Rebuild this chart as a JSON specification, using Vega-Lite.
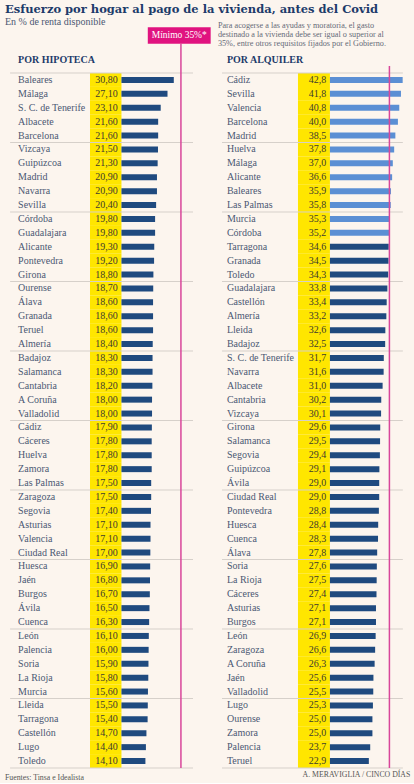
{
  "$schema": "https://vega.github.io/schema/vega-lite/v6.json",
  "background": "#fcf5ee",
  "padding": {"left": 4, "top": 3.5, "right": 3, "bottom": 1},
  "bounds": "flush",
  "spacing": 29,
  "datasets": {
    "hip": [
      {"name": "Baleares", "value": 30.8}, {"name": "Málaga", "value": 27.1}, {"name": "S. C. de Tenerife", "value": 23.1}, {"name": "Albacete", "value": 21.6}, {"name": "Barcelona", "value": 21.6},
      {"name": "Vizcaya", "value": 21.5}, {"name": "Guipúzcoa", "value": 21.3}, {"name": "Madrid", "value": 20.9}, {"name": "Navarra", "value": 20.9}, {"name": "Sevilla", "value": 20.4},
      {"name": "Córdoba", "value": 19.8}, {"name": "Guadalajara", "value": 19.8}, {"name": "Alicante", "value": 19.3}, {"name": "Pontevedra", "value": 19.2}, {"name": "Girona", "value": 18.8},
      {"name": "Ourense", "value": 18.7}, {"name": "Álava", "value": 18.6}, {"name": "Granada", "value": 18.6}, {"name": "Teruel", "value": 18.6}, {"name": "Almería", "value": 18.4},
      {"name": "Badajoz", "value": 18.3}, {"name": "Salamanca", "value": 18.3}, {"name": "Cantabria", "value": 18.2}, {"name": "A Coruña", "value": 18.0}, {"name": "Valladolid", "value": 18.0},
      {"name": "Cádiz", "value": 17.9}, {"name": "Cáceres", "value": 17.8}, {"name": "Huelva", "value": 17.8}, {"name": "Zamora", "value": 17.8}, {"name": "Las Palmas", "value": 17.5},
      {"name": "Zaragoza", "value": 17.5}, {"name": "Segovia", "value": 17.4}, {"name": "Asturias", "value": 17.1}, {"name": "Valencia", "value": 17.1}, {"name": "Ciudad Real", "value": 17.0},
      {"name": "Huesca", "value": 16.9}, {"name": "Jaén", "value": 16.8}, {"name": "Burgos", "value": 16.7}, {"name": "Ávila", "value": 16.5}, {"name": "Cuenca", "value": 16.3},
      {"name": "León", "value": 16.1}, {"name": "Palencia", "value": 16.0}, {"name": "Soria", "value": 15.9}, {"name": "La Rioja", "value": 15.8}, {"name": "Murcia", "value": 15.6},
      {"name": "Lleida", "value": 15.5}, {"name": "Tarragona", "value": 15.4}, {"name": "Castellón", "value": 14.7}, {"name": "Lugo", "value": 14.4}, {"name": "Toledo", "value": 14.1}
    ],
    "alq": [
      {"name": "Cádiz", "value": 42.8}, {"name": "Sevilla", "value": 41.8}, {"name": "Valencia", "value": 40.8}, {"name": "Barcelona", "value": 40.0}, {"name": "Madrid", "value": 38.5},
      {"name": "Huelva", "value": 37.8}, {"name": "Málaga", "value": 37.0}, {"name": "Alicante", "value": 36.6}, {"name": "Baleares", "value": 35.9}, {"name": "Las Palmas", "value": 35.8},
      {"name": "Murcia", "value": 35.3}, {"name": "Córdoba", "value": 35.2}, {"name": "Tarragona", "value": 34.6}, {"name": "Granada", "value": 34.5}, {"name": "Toledo", "value": 34.3},
      {"name": "Guadalajara", "value": 33.8}, {"name": "Castellón", "value": 33.4}, {"name": "Almería", "value": 33.2}, {"name": "Lleida", "value": 32.6}, {"name": "Badajoz", "value": 32.5},
      {"name": "S. C. de Tenerife", "value": 31.7}, {"name": "Navarra", "value": 31.6}, {"name": "Albacete", "value": 31.0}, {"name": "Cantabria", "value": 30.2}, {"name": "Vizcaya", "value": 30.1},
      {"name": "Girona", "value": 29.6}, {"name": "Salamanca", "value": 29.5}, {"name": "Segovia", "value": 29.4}, {"name": "Guipúzcoa", "value": 29.1}, {"name": "Ávila", "value": 29.0},
      {"name": "Ciudad Real", "value": 29.0}, {"name": "Pontevedra", "value": 28.8}, {"name": "Huesca", "value": 28.4}, {"name": "Cuenca", "value": 28.3}, {"name": "Álava", "value": 27.8},
      {"name": "Soria", "value": 27.6}, {"name": "La Rioja", "value": 27.5}, {"name": "Cáceres", "value": 27.4}, {"name": "Asturias", "value": 27.1}, {"name": "Burgos", "value": 27.1},
      {"name": "León", "value": 26.9}, {"name": "Zaragoza", "value": 26.6}, {"name": "A Coruña", "value": 26.3}, {"name": "Jaén", "value": 25.6}, {"name": "Valladolid", "value": 25.5},
      {"name": "Lugo", "value": 25.3}, {"name": "Ourense", "value": 25.0}, {"name": "Zamora", "value": 25.0}, {"name": "Palencia", "value": 23.7}, {"name": "Teruel", "value": 22.9}
    ]
  },
  "hconcat": [
    {
      "width": 189, "height": 778.4,
      "data": {"name": "hip"},
      "layer": [
        {"mark": {"type": "rect", "color": "#ffe600"},
         "encoding": {
           "x": {"datum": -18.5, "type": "quantitative", "scale": {"domain": [-69.1, 42.1], "nice": false, "zero": false}},
           "x2": {"datum": 0},
           "y": {"field": "name", "type": "nominal", "scale": {"type": "band", "paddingInner": 0, "paddingOuter": 0, "domain": ["·t1", "·t2", "·a", "·b", "·c", "Baleares", "Málaga", "S. C. de Tenerife", "Albacete", "Barcelona", "Vizcaya", "Guipúzcoa", "Madrid", "Navarra", "Sevilla", "Córdoba", "Guadalajara", "Alicante", "Pontevedra", "Girona", "Ourense", "Álava", "Granada", "Teruel", "Almería", "Badajoz", "Salamanca", "Cantabria", "A Coruña", "Valladolid", "Cádiz", "Cáceres", "Huelva", "Zamora", "Las Palmas", "Zaragoza", "Segovia", "Asturias", "Valencia", "Ciudad Real", "Huesca", "Jaén", "Burgos", "Ávila", "Cuenca", "León", "Palencia", "Soria", "La Rioja", "Murcia", "Lleida", "Tarragona", "Castellón", "Lugo", "Toledo", "·z"]}}
         }},
        {"transform": [{"window": [{"op": "row_number", "as": "r"}]}, {"filter": "(datum.r - 1) % 5 == 0"}],
         "mark": {"type": "rule", "color": "#d6d0ca", "strokeWidth": 1},
         "encoding": {"x": {"datum": -65.5, "type": "quantitative"}, "x2": {"datum": 42.1}, "y": {"field": "name", "type": "nominal", "bandPosition": 0}}},
        {"transform": [{"window": [{"op": "row_number", "as": "r"}]}, {"filter": "datum.r == 50"}],
         "mark": {"type": "rule", "color": "#d6d0ca", "strokeWidth": 1},
         "encoding": {"x": {"datum": -65.5, "type": "quantitative"}, "x2": {"datum": 42.1}, "y": {"field": "name", "type": "nominal", "bandPosition": 1}}},
        {"data": {"values": [{}]},
         "mark": {"type": "rule", "color": "#d8469a", "strokeWidth": 1.5},
         "encoding": {"x": {"datum": 35, "type": "quantitative"}, "y": {"datum": "·a", "type": "nominal", "bandPosition": 0.9}, "y2": {"datum": "Toledo", "bandPosition": 1}}},
        {"mark": {"type": "bar", "color": "#1f4a7f", "size": 6},
         "encoding": {"x": {"field": "value", "type": "quantitative"}, "y": {"field": "name", "type": "nominal"}}},
        {"mark": {"type": "text", "align": "left", "baseline": "middle", "font": "Liberation Serif", "fontSize": 10, "color": "#4b5873"},
         "encoding": {"x": {"datum": -60.8, "type": "quantitative"}, "y": {"field": "name", "type": "nominal"}, "text": {"field": "name"}}},
        {"mark": {"type": "text", "align": "right", "baseline": "middle", "font": "Liberation Serif", "fontSize": 10, "color": "#3d3a2e"},
         "encoding": {"x": {"datum": -2.2, "type": "quantitative"}, "y": {"field": "name", "type": "nominal"}, "text": {"field": "value", "type": "quantitative", "format": ".2f"}}},
        {"data": {"values": [{}]},
         "mark": {"type": "rect", "color": "#e0137f"},
         "encoding": {"x": {"datum": 15.5, "type": "quantitative"}, "x2": {"datum": 52.5}, "y": {"datum": "·t2", "type": "nominal", "bandPosition": 0.7}, "y2": {"datum": "·a", "bandPosition": 0.9}}},
        {"data": {"values": [{"t": "Mínimo 35%*"}]},
         "mark": {"type": "text", "align": "center", "baseline": "middle", "font": "Liberation Serif", "fontSize": 9.5, "color": "#ffffff"},
         "encoding": {"x": {"datum": 34, "type": "quantitative"}, "y": {"datum": "·a", "type": "nominal", "bandPosition": 0.3}, "text": {"field": "t"}}},
        {"data": {"values": [{"t": "Esfuerzo por hogar al pago de la vivienda, antes del Covid"}]},
         "mark": {"type": "text", "align": "left", "baseline": "alphabetic", "font": "DejaVu Serif", "fontSize": 11.5, "fontWeight": "bold", "color": "#1d3b6a"},
         "encoding": {"x": {"datum": -68.5, "type": "quantitative"}, "y": {"datum": "·t1", "type": "nominal", "bandPosition": 0.66}, "text": {"field": "t"}}},
        {"data": {"values": [{"t": "En % de renta disponible"}]},
         "mark": {"type": "text", "align": "left", "baseline": "alphabetic", "font": "Liberation Serif", "fontSize": 10, "color": "#4b5873"},
         "encoding": {"x": {"datum": -68.5, "type": "quantitative"}, "y": {"datum": "·t2", "type": "nominal", "bandPosition": 0.55}, "text": {"field": "t"}}},
        {"data": {"values": [{"t": "POR HIPOTECA"}]},
         "mark": {"type": "text", "align": "left", "baseline": "middle", "font": "Liberation Serif", "fontSize": 10, "fontWeight": "bold", "color": "#1d3b6a"},
         "encoding": {"x": {"datum": -60.8, "type": "quantitative"}, "y": {"datum": "·c", "type": "nominal", "bandPosition": 0.05}, "text": {"field": "t"}}},
        {"data": {"values": [{"t": "Fuentes: Tinsa e Idealista"}]},
         "mark": {"type": "text", "align": "left", "baseline": "middle", "font": "Liberation Serif", "fontSize": 7.8, "color": "#555555"},
         "encoding": {"x": {"datum": -68.5, "type": "quantitative"}, "y": {"datum": "·z", "type": "nominal", "bandPosition": 0.7}, "text": {"field": "t"}}}
      ]
    },
    {
      "width": 189, "height": 778.4,
      "data": {"name": "alq"},
      "layer": [
        {"mark": {"type": "rect", "color": "#ffe600"},
         "encoding": {
           "x": {"datum": -18.8, "type": "quantitative", "scale": {"domain": [-63.5, 47.7], "nice": false, "zero": false}},
           "x2": {"datum": 0},
           "y": {"field": "name", "type": "nominal", "scale": {"type": "band", "paddingInner": 0, "paddingOuter": 0, "domain": ["·t1", "·t2", "·a", "·b", "·c", "Cádiz", "Sevilla", "Valencia", "Barcelona", "Madrid", "Huelva", "Málaga", "Alicante", "Baleares", "Las Palmas", "Murcia", "Córdoba", "Tarragona", "Granada", "Toledo", "Guadalajara", "Castellón", "Almería", "Lleida", "Badajoz", "S. C. de Tenerife", "Navarra", "Albacete", "Cantabria", "Vizcaya", "Girona", "Salamanca", "Segovia", "Guipúzcoa", "Ávila", "Ciudad Real", "Pontevedra", "Huesca", "Cuenca", "Álava", "Soria", "La Rioja", "Cáceres", "Asturias", "Burgos", "León", "Zaragoza", "A Coruña", "Jaén", "Valladolid", "Lugo", "Ourense", "Zamora", "Palencia", "Teruel", "·z"]}}
         }},
        {"transform": [{"window": [{"op": "row_number", "as": "r"}]}, {"filter": "(datum.r - 1) % 5 == 0"}],
         "mark": {"type": "rule", "color": "#d6d0ca", "strokeWidth": 1},
         "encoding": {"x": {"datum": -63.5, "type": "quantitative"}, "x2": {"datum": 42.9}, "y": {"field": "name", "type": "nominal", "bandPosition": 0}}},
        {"transform": [{"window": [{"op": "row_number", "as": "r"}]}, {"filter": "datum.r == 50"}],
         "mark": {"type": "rule", "color": "#d6d0ca", "strokeWidth": 1},
         "encoding": {"x": {"datum": -63.5, "type": "quantitative"}, "x2": {"datum": 42.9}, "y": {"field": "name", "type": "nominal", "bandPosition": 1}}},
        {"mark": {"type": "bar", "size": 6},
         "encoding": {"x": {"field": "value", "type": "quantitative"}, "y": {"field": "name", "type": "nominal"},
           "color": {"condition": {"test": "datum.value >= 35", "value": "#5b8fd4"}, "value": "#1f4a7f"}}},
        {"data": {"values": [{}]},
         "mark": {"type": "rule", "color": "#d8469a", "strokeWidth": 1.5},
         "encoding": {"x": {"datum": 35, "type": "quantitative"}, "y": {"datum": "·c", "type": "nominal", "bandPosition": 0.5}, "y2": {"datum": "Teruel", "bandPosition": 1}}},
        {"mark": {"type": "text", "align": "left", "baseline": "middle", "font": "Liberation Serif", "fontSize": 10, "color": "#4b5873"},
         "encoding": {"x": {"datum": -60.6, "type": "quantitative"}, "y": {"field": "name", "type": "nominal"}, "text": {"field": "name"}}},
        {"mark": {"type": "text", "align": "right", "baseline": "middle", "font": "Liberation Serif", "fontSize": 10, "color": "#3d3a2e"},
         "encoding": {"x": {"datum": -2.2, "type": "quantitative"}, "y": {"field": "name", "type": "nominal"}, "text": {"field": "value", "type": "quantitative", "format": ".1f"}}},
        {"data": {"values": [{"t": ["Para acogerse a las ayudas y moratoria, el gasto", "destinado a la vivienda debe ser igual o superior al", "35%, entre otros requisitos fijados por el Gobierno."]}]},
         "mark": {"type": "text", "align": "left", "baseline": "alphabetic", "font": "Liberation Serif", "fontSize": 8.2, "lineHeight": 9, "color": "#666b78"},
         "encoding": {"x": {"datum": -65.9, "type": "quantitative"}, "y": {"datum": "·t2", "type": "nominal", "bandPosition": 0.76}, "text": {"field": "t"}}},
        {"data": {"values": [{"t": "POR ALQUILER"}]},
         "mark": {"type": "text", "align": "left", "baseline": "middle", "font": "Liberation Serif", "fontSize": 10, "fontWeight": "bold", "color": "#1d3b6a"},
         "encoding": {"x": {"datum": -60.6, "type": "quantitative"}, "y": {"datum": "·c", "type": "nominal", "bandPosition": 0.05}, "text": {"field": "t"}}},
        {"data": {"values": [{"t": "A. MERAVIGLIA / CINCO DÍAS"}]},
         "mark": {"type": "text", "align": "right", "baseline": "middle", "font": "Liberation Serif", "fontSize": 7.8, "color": "#555555"},
         "encoding": {"x": {"datum": 47.3, "type": "quantitative"}, "y": {"datum": "·z", "type": "nominal", "bandPosition": 0.5}, "text": {"field": "t"}}}
      ]
    }
  ],
  "config": {
    "view": {"stroke": null},
    "axis": {"disable": true},
    "locale": {"number": {"decimal": ",", "thousands": ".", "grouping": [3], "currency": ["", "€"]}}
  }
}
